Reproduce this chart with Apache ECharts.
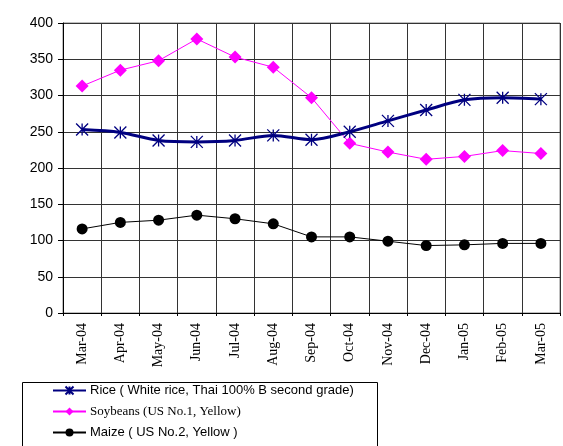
<!DOCTYPE html>
<html>
<head>
<meta charset="utf-8">
<script src="https://cdn.jsdelivr.net/npm/echarts@6/dist/echarts.min.js"></script>
<style>
html,body{margin:0;padding:0;background:#fff;}
#chart{width:563px;height:446px;}
</style>
</head>
<body>
<div id="chart"></div>
<script>
const categories = ['Mar-04','Apr-04','May-04','Jun-04','Jul-04','Aug-04','Sep-04','Oct-04','Nov-04','Dec-04','Jan-05','Feb-05','Mar-05'];
const rice = [253, 249, 238, 236, 238, 245, 239, 250, 265, 280, 294, 297, 295];
const soybeans = [313, 335, 348, 378, 353, 339, 297, 234, 222, 212, 216, 224, 220];
const maize = [116, 125, 128, 135, 130, 123, 105, 105, 99, 93, 94, 96, 96];
const seriesNames = [
  'Rice ( White rice, Thai 100% B second grade)',
  'Soybeans (US No.1, Yellow)',
  'Maize ( US No.2, Yellow )'
];
const titleText = '(US dollars/ton)';

const SANS = '"Liberation Sans", Arial, sans-serif';
const SERIF = '"Liberation Serif", "Times New Roman", serif';
const legendFonts = [SANS, SERIF, SANS];
const legendTops = [384, 405, 426];

const asterisk = 'path://M0,0L10,10M10,0L0,10M5,0L5,10';
const chart = echarts.init(document.getElementById('chart'));
chart.setOption({
  animation: false,
  backgroundColor: '#fff',
  graphic: [
    {
      type: 'text', left: 272, top: -13,
      style: { text: titleText, font: '13px ' + SANS, fill: '#000' }
    },
    {
      type: 'rect', shape: { x: 22.5, y: 382.5, width: 355, height: 80 },
      style: { fill: 'none', stroke: '#000', lineWidth: 1 }, z: 1
    }
  ],
  grid: {
    left: 63, right: 3, top: 23, bottom: 133,
    show: true, borderColor: '#808080', borderWidth: 1,
    outerBoundsMode: 'none', containLabel: false
  },
  legend: seriesNames.map((n, i) => ({
    orient: 'vertical', left: 22, top: legendTops[i],
    padding: [0, 0, 0, 30],
    itemWidth: 33, itemHeight: 10, itemGap: 7,
    textStyle: { fontSize: 13, color: '#000', fontFamily: legendFonts[i], padding: [0, 0, 0, -1] },
    data: [n]
  })),
  xAxis: {
    type: 'category', data: categories, boundaryGap: true,
    axisLine: { show: true, lineStyle: { color: '#000', width: 1 } },
    axisTick: { show: true, interval: 0, length: 3, lineStyle: { color: '#000' } },
    splitLine: { show: true, interval: 0, lineStyle: { color: '#333', width: 1 } },
    axisLabel: {
      interval: 0, rotate: 90, margin: 10, color: '#000', fontSize: 14,
      fontFamily: SERIF
    }
  },
  yAxis: {
    type: 'value', min: 0, max: 400, interval: 50,
    axisLine: { show: true, lineStyle: { color: '#000', width: 1 } },
    axisTick: { show: true, length: 5, lineStyle: { color: '#000' } },
    splitLine: { show: true, lineStyle: { color: '#333', width: 1 } },
    axisLabel: { margin: 10, color: '#000', fontSize: 14, fontFamily: SANS }
  },
  series: [
    {
      name: seriesNames[0], type: 'line', data: rice, smooth: 0.3,
      symbol: asterisk, symbolSize: 12, showAllSymbol: true,
      lineStyle: { color: '#000080', width: 3 },
      itemStyle: { color: '#000080', borderColor: '#000080', borderWidth: 1.3 },
      z: 4
    },
    {
      name: seriesNames[1], type: 'line', data: soybeans,
      symbol: 'diamond', symbolSize: 13, showAllSymbol: true,
      lineStyle: { color: '#ff00ff', width: 1 },
      itemStyle: { color: '#ff00ff', borderWidth: 0 },
      z: 3
    },
    {
      name: seriesNames[2], type: 'line', data: maize,
      symbol: 'circle', symbolSize: 11, showAllSymbol: true,
      lineStyle: { color: '#000', width: 1 },
      itemStyle: { color: '#000', borderWidth: 0 },
      z: 2
    }
  ]
});
</script>
</body>
</html>
